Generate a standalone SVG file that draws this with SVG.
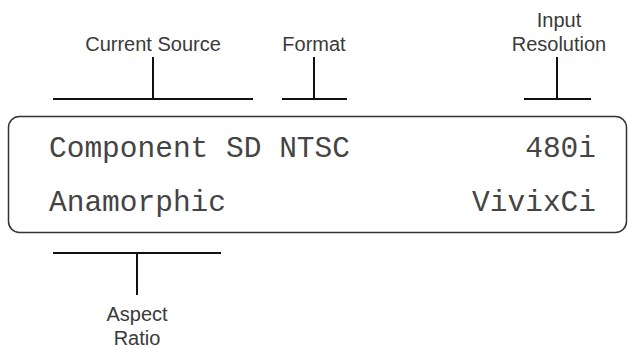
<svg xmlns="http://www.w3.org/2000/svg" width="628" height="348" viewBox="0 0 628 348">
<style>
.lbl{font-family:"Liberation Sans",Arial,Helvetica,sans-serif;font-size:20px;fill:#3a3a3a;text-anchor:middle}
.mono{font-family:"Courier New","Liberation Mono",monospace;font-size:29.5px;fill:#444}
.ln{stroke:#111;stroke-width:2;fill:none}
.box{stroke:#333;stroke-width:1.5;fill:#fff}
</style>
<rect width="628" height="348" fill="#fff"/>
<g id="display">
<rect class="box" x="8.5" y="116.5" width="618" height="116" rx="11"/>
<text class="mono" x="49" y="157">Component SD NTSC</text>
<text class="mono" x="596" y="157" text-anchor="end">480i</text>
<text class="mono" x="49" y="211">Anamorphic</text>
<text class="mono" x="596" y="211" text-anchor="end">VivixCi</text>
</g>
<g id="current-source">
<text class="lbl" x="153" y="51">Current Source</text>
</g>
<g id="format">
<text class="lbl" x="314" y="51">Format</text>
</g>
<g id="input-resolution">
<text class="lbl" x="559" y="27">Input</text>
<text class="lbl" x="559" y="51">Resolution</text>
</g>
<g id="aspect-ratio">
<text class="lbl" x="137" y="321">Aspect</text>
<text class="lbl" x="137" y="345">Ratio</text>
</g>
<g id="connectors">
<path class="ln" d="M53 99H253M153 99V57"/>
<path class="ln" d="M282 99H347M314 99V57"/>
<path class="ln" d="M524 99H591M557 99V57"/>
<path class="ln" d="M53 253H221M137 253V295"/>
</g>
</svg>
